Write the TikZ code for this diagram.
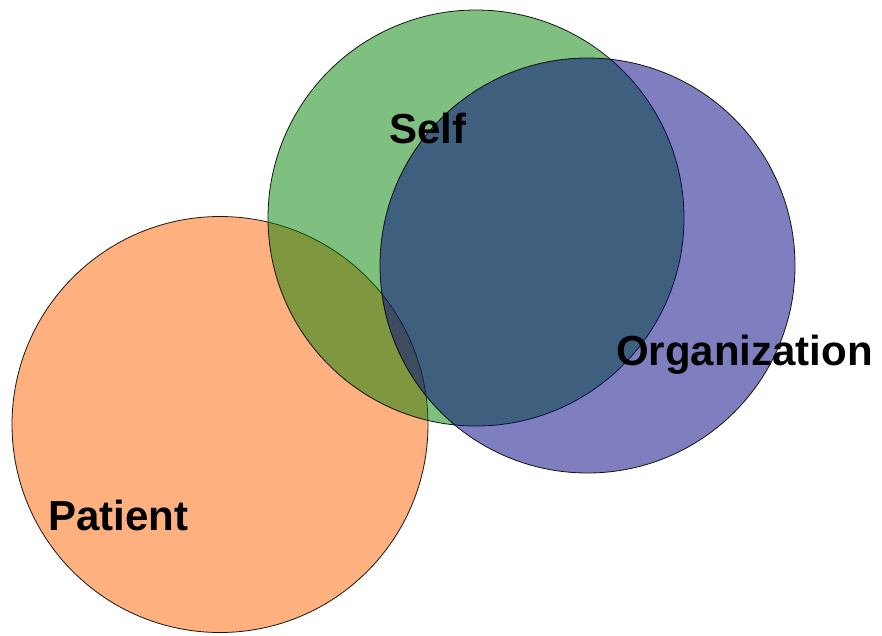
\documentclass[tikz,border=0pt]{standalone}
\usepackage{fontspec}
\setmainfont{Liberation Sans}
\begin{document}
\begin{tikzpicture}[x=1pt,y=-1pt,
  venn/.style={draw=black,line width=0.8pt,fill opacity=0.5,draw opacity=0.9},
  lbl/.style={inner sep=0pt,anchor=base west,font=\fontsize{42}{48}\selectfont\bfseries,text=black}]
\useasboundingbox (0,0) rectangle (882,635);
\path[venn,fill={rgb,255:red,255;green,97;blue,0}] (220,424.5) circle[radius=208] coordinate (patient);
\path[venn,fill={rgb,255:red,0;green,128;blue,0}] (476,218) circle[radius=208] coordinate (self);
\path[venn,fill={rgb,255:red,0;green,0;blue,128}] (587.5,265.5) circle[radius=207.5] coordinate (org);
\node[lbl] (tself) at (389,143) {Self};
\node[lbl] (torg) at (616,365) {Organization};
\node[lbl] (tpat) at (48,530) {Patient};
\end{tikzpicture}
\end{document}
